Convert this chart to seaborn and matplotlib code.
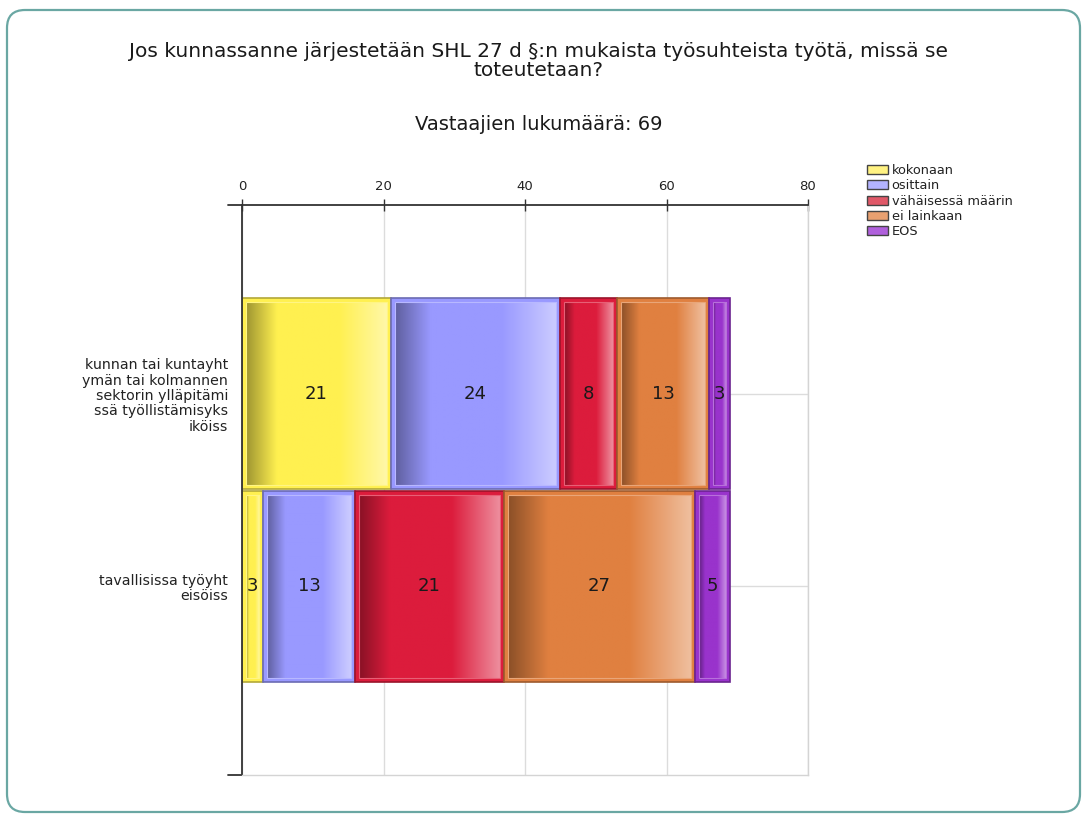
import numpy as np
import pandas as pd
import matplotlib
matplotlib.use("Agg")
import matplotlib.pyplot as plt
import seaborn as sns
from matplotlib.patches import Patch, FancyBboxPatch, Rectangle
from matplotlib.colors import to_rgb

# data
kohteet = ["kunnan tai kuntayht\nymän tai kolmannen\nsektorin ylläpitämi\nssä työllistämisyks\niköiss",
           "tavallisissa työyht\neisöiss"]
vastaukset = ["kokonaan", "osittain", "vähäisessä määrin", "ei lainkaan", "EOS"]
kokonaan = [21, 3]
osittain = [24, 13]
vahaisessa = [8, 21]
ei_lainkaan = [13, 27]
eos = [3, 5]
x_ticks = [0, 20, 40, 60, 80]
vastaajat = 69

bar_colors = ["#fff050", "#9999ff", "#dc1c3c", "#e08040", "#9933cc"]
legend_colors = ["#fff282", "#b3b3ff", "#e05868", "#e8a070", "#b060dc"]


def shade(col, f):
    return tuple(np.array(to_rgb(col)) * f)


def lighten(col, f):
    c = np.array(to_rgb(col))
    return tuple(c + (1 - c) * f)


def gradient_row(col, n=256):
    """left dark -> base -> lighter at the right"""
    base = np.array(to_rgb(col))
    dark = base * 0.62
    light = base + (1 - base) * 0.5
    t = np.linspace(0, 1, n)
    st = [0, 0.22, 0.66, 1]
    sc = [dark, base, base, light]
    img = np.stack([np.interp(t, st, [c[i] for c in sc]) for i in range(3)], axis=-1)
    return img[None, :, :]


rows = []
for name, vals in zip(vastaukset, [kokonaan, osittain, vahaisessa, ei_lainkaan, eos]):
    for k, v in zip(kohteet, vals):
        rows.append((k, name, v))
df = pd.DataFrame(rows, columns=["kohde", "vastaus", "lkm"])
df["alku"] = df.groupby("kohde", sort=False)["lkm"].cumsum() - df["lkm"]

sns.set_style("white")
plt.rcParams['font.family'] = ['DejaVu Sans']

fig = plt.figure(figsize=(10.86, 8.14), dpi=100)
ax = fig.add_axes([242 / 1086, 1 - 775 / 814, 566 / 1086, 570 / 814])

for name, col in zip(vastaukset, bar_colors):
    sub = df[df.vastaus == name]
    sns.barplot(data=sub, x="lkm", y="kohde", order=kohteet, orient="h",
                left=sub["alku"].values, color=col, saturation=1, width=0.99,
                errorbar=None, edgecolor=shade(col, 0.7), linewidth=1.2, ax=ax)

ax.set_xlim(0, 80)
ax.set_ylim(1.98, -0.98)

# gradient fill inside every bar
dx = 4 * 80 / 566
dy = 4 * 2.96 / 570
for cont, col in zip(ax.containers, bar_colors):
    for p in cont.patches:
        x, y, w, h = p.get_x(), p.get_y(), p.get_width(), p.get_height()
        ax.imshow(gradient_row(col), extent=[x + dx, x + w - dx, y + h - dy, y + dy],
                  aspect="auto", zorder=1.5, interpolation="bilinear")
        ax.add_patch(Rectangle((x + dx, y + dy), w - 2 * dx, h - 2 * dy, facecolor="none",
                               edgecolor=lighten(col, 0.3), linewidth=0.8, zorder=1.6))
    ax.bar_label(cont, label_type="center", fontsize=13, color="#1a1a1a", zorder=4)

ax.set_xlim(0, 80)
ax.set_ylim(1.98, -0.98)
ax.set_xlabel("")
ax.set_ylabel("")

ax.xaxis.tick_top()
ax.set_xticks(x_ticks)
ax.tick_params(axis="x", direction="inout", length=8, width=1, color="#333333",
               labelsize=9.5, labelcolor="#222222", pad=5)
ax.tick_params(axis="y", direction="out", length=8, width=1,
               color="#333333", labelsize=10.2, labelcolor="#222222", pad=2)
for lab in ax.get_yticklabels():
    lab.set_linespacing(1.12)
    lab.set_horizontalalignment("right")

# end ticks of the value axis
for yy in [0, 1]:
    ax.plot([-0.025, 0], [yy, yy], transform=ax.transAxes, clip_on=False,
            color="#333333", linewidth=1.3)

ax.set_axisbelow(True)
ax.grid(True, color="#dcdcdc", linewidth=1)
for s in ["top", "left"]:
    ax.spines[s].set_color("#333333")
    ax.spines[s].set_linewidth(1.3)
for s in ["right", "bottom"]:
    ax.spines[s].set_color("#d4d4d4")
    ax.spines[s].set_linewidth(1)

fig.text(0.496, 1 - 61 / 814,
         "Jos kunnassanne järjestetään SHL 27 d §:n mukaista työsuhteista työtä, missä se\ntoteutetaan?",
         ha="center", va="center", fontsize=14.5, color="#1a1a1a", linespacing=0.95)
fig.text(0.496, 1 - 125 / 814, f"Vastaajien lukumäärä: {vastaajat}",
         ha="center", va="center", fontsize=14, color="#1a1a1a")

handles = [Patch(facecolor=c, edgecolor="#444444", linewidth=1) for c in legend_colors]
fig.legend(handles, vastaukset, loc="upper left", bbox_to_anchor=(867 / 1086, 1 - 164 / 814),
           frameon=False, fontsize=9.3, handlelength=1.6, handleheight=0.72,
           labelspacing=0.18, handletextpad=0.3, borderaxespad=0, borderpad=0,
           labelcolor="#222222")

frame = FancyBboxPatch((7, 2), 1073, 802, boxstyle="round,pad=0,rounding_size=18",
                       transform=None, facecolor="none", edgecolor="#6aa7a3",
                       linewidth=1.6, zorder=0)
fig.add_artist(frame)

fig.savefig("out.png", dpi=100, facecolor="white")
